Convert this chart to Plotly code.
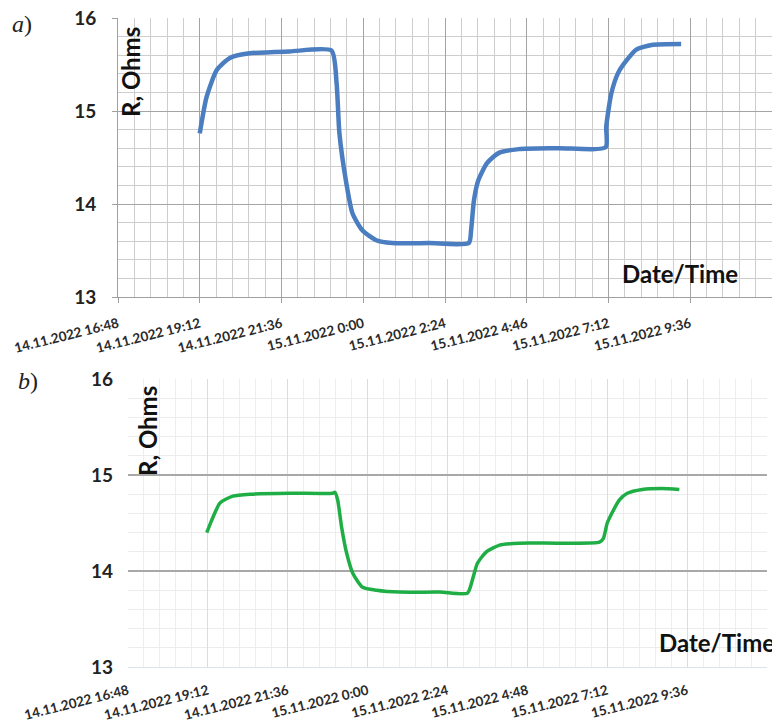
import plotly.graph_objects as go
import pandas as pd
import numpy as np

# ---- data ----
tick_vals = ["2022-11-14 16:48", "2022-11-14 19:12", "2022-11-14 21:36", "2022-11-15 00:00",
             "2022-11-15 02:24", "2022-11-15 04:48", "2022-11-15 07:12", "2022-11-15 09:36"]
tick_text_a = ["14.11.2022 16:48", "14.11.2022 19:12", "14.11.2022 21:36", "15.11.2022 0:00",
               "15.11.2022 2:24", "15.11.2022 4:46", "15.11.2022 7:12", "15.11.2022 9:36"]
tick_text_b = ["14.11.2022 16:48", "14.11.2022 19:12", "14.11.2022 21:36", "15.11.2022 0:00",
               "15.11.2022 2:24", "15.11.2022 4:48", "15.11.2022 7:12", "15.11.2022 9:36"]

time_a = ["2022-11-14 19:12", "2022-11-14 19:24", "2022-11-14 19:42", "2022-11-14 20:05",
          "2022-11-14 20:40", "2022-11-14 21:50", "2022-11-14 23:04", "2022-11-14 23:13",
          "2022-11-14 23:18", "2022-11-14 23:30", "2022-11-14 23:41", "2022-11-14 23:58",
          "2022-11-15 00:23", "2022-11-15 00:51", "2022-11-15 01:56", "2022-11-15 03:06",
          "2022-11-15 03:10", "2022-11-15 03:15", "2022-11-15 03:23", "2022-11-15 03:38",
          "2022-11-15 03:59", "2022-11-15 04:34", "2022-11-15 05:44", "2022-11-15 07:07",
          "2022-11-15 07:08", "2022-11-15 07:17", "2022-11-15 07:29", "2022-11-15 07:42",
          "2022-11-15 08:01", "2022-11-15 08:28", "2022-11-15 09:20"]
r_a = [14.76, 15.15, 15.44, 15.57, 15.62, 15.64, 15.65, 15.30,
       14.76, 14.23, 13.90, 13.72, 13.61, 13.58, 13.58, 13.58,
       13.72, 14.04, 14.26, 14.44, 14.55, 14.59, 14.60, 14.61,
       14.83, 15.19, 15.41, 15.53, 15.66, 15.71, 15.72]

time_b = ["2022-11-14 19:10", "2022-11-14 19:19", "2022-11-14 19:34", "2022-11-14 19:57",
          "2022-11-14 20:28", "2022-11-14 21:40", "2022-11-14 22:57", "2022-11-14 23:01",
          "2022-11-14 23:06", "2022-11-14 23:13", "2022-11-14 23:22", "2022-11-14 23:33",
          "2022-11-14 23:51", "2022-11-15 00:16", "2022-11-15 00:58", "2022-11-15 02:10",
          "2022-11-15 03:00", "2022-11-15 03:09", "2022-11-15 03:18", "2022-11-15 03:34",
          "2022-11-15 03:58", "2022-11-15 04:34", "2022-11-15 05:46", "2022-11-15 06:58",
          "2022-11-15 07:05", "2022-11-15 07:12", "2022-11-15 07:21", "2022-11-15 07:34",
          "2022-11-15 07:48", "2022-11-15 08:15", "2022-11-15 08:51", "2022-11-15 09:22"]
r_b = [14.40, 14.53, 14.71, 14.78, 14.80, 14.81, 14.81, 14.82,
       14.74, 14.46, 14.19, 13.98, 13.83, 13.80, 13.78, 13.78,
       13.77, 13.91, 14.08, 14.20, 14.27, 14.29, 14.29, 14.30,
       14.34, 14.50, 14.61, 14.74, 14.81, 14.85, 14.86, 14.85]

x_range = ["2022-11-14 16:48", "2022-11-15 12:00"]
y_range = [13, 16]

# minor grid positions (every 28.8 min / every 0.2 Ohm)
minor_x = [t.strftime("%Y-%m-%d %H:%M:%S") for t in
           pd.date_range(x_range[0], x_range[1], freq="1728s")]
minor_y = [round(v, 1) for v in np.arange(13.0, 16.01, 0.2)]

# page body has an 8px margin; the figure fills the rest of the 780x727 window
OFF = 8
W, H = 780 - OFF, 727 - OFF
def px(x): return (x - OFF) / W
def py(y): return 1 - (y - OFF) / H

fig = go.Figure()
fig.add_trace(go.Scatter(x=time_a, y=r_a, mode="lines",
                         line=dict(color="#4a7ec0", width=4.5, shape="spline", smoothing=0.6),
                         xaxis="x", yaxis="y", showlegend=False))
fig.add_trace(go.Scatter(x=time_b, y=r_b, mode="lines",
                         line=dict(color="#1fae45", width=3.5, shape="spline", smoothing=0.6),
                         xaxis="x2", yaxis="y2", showlegend=False))

date_font = dict(family="Lato", size=13.5, color="#2a2a2a", weight="bold")
ytick_font = dict(family="Lato", size=19, color="#222222", weight="bold")

fig.update_layout(
    width=W, height=H, autosize=False,
    margin=dict(l=0, r=0, t=0, b=0, autoexpand=False),
    paper_bgcolor="white", plot_bgcolor="white",
    xaxis=dict(domain=[px(118), px(772)], anchor="y", type="date", range=x_range, automargin=False,
               tickmode="array", tickvals=tick_vals, ticktext=tick_text_a, tickangle=-14,
               tickfont=date_font, showgrid=True, gridcolor="#a4a4a4", gridwidth=1,
               ticks="outside", ticklen=5, tickcolor="#a0a0a0", ticklabeloverflow="allow",
               showline=True, linecolor="#a0a0a0", linewidth=1, ticklabelstandoff=8,
               minor=dict(tickmode="array", tickvals=minor_x, ticks="",
                          showgrid=True, gridcolor="#cdcdcd", gridwidth=1)),
    yaxis=dict(domain=[py(297), py(18)], anchor="x", range=y_range, dtick=1, automargin=False,
               tickfont=ytick_font, showgrid=True, gridcolor="#a4a4a4", gridwidth=1,
               ticks="outside", ticklen=5, tickcolor="#a0a0a0", ticklabeloverflow="allow",
               showline=True, linecolor="#a0a0a0", linewidth=1, ticklabelstandoff=12,
               zeroline=False,
               minor=dict(tickmode="array", tickvals=minor_y, ticks="",
                          showgrid=True, gridcolor="#cdcdcd", gridwidth=1)),
    xaxis2=dict(domain=[px(128), px(767)], anchor="y2", type="date", range=x_range, automargin=False,
                tickmode="array", tickvals=tick_vals, ticktext=tick_text_b, tickangle=-14,
                tickfont=date_font, showgrid=True, gridcolor="#dcdcdc", gridwidth=1,
                ticks="", showline=True, linecolor="#dbe3ee", linewidth=1, ticklabelstandoff=10,
                ticklabeloverflow="allow",
                minor=dict(tickmode="array", tickvals=minor_x, ticks="",
                           showgrid=True, gridcolor="#eeeeee", gridwidth=1)),
    yaxis2=dict(domain=[py(667), py(379)], anchor="x2", range=y_range, dtick=1, automargin=False,
                tickfont=ytick_font, showgrid=True, gridcolor="#a8a8a8", gridwidth=1.5,
                ticks="", showline=False, ticklabelstandoff=14, zeroline=False,
                ticklabeloverflow="allow",
                minor=dict(tickmode="array", tickvals=minor_y, ticks="",
                           showgrid=True, gridcolor="#ececec", gridwidth=1)),
)

ann_font = dict(family="Lato", size=24, color="#111111", weight="bold")
serif = dict(family="Liberation Serif", size=24, color="#222222")
annotations = [
    dict(x=px(131), y=py(72), text="R, Ohms", textangle=-90, font=ann_font),
    dict(x=px(680), y=py(273), text="Date/Time", font=ann_font),
    dict(x=px(147), y=py(431), text="R, Ohms", textangle=-90, font=ann_font),
    dict(x=px(717), y=py(642), text="Date/Time", font=ann_font),
    dict(x=px(22), y=py(24), text="<i>a</i>)", font=serif),
    dict(x=px(28), y=py(381), text="<i>b</i>)", font=serif),
]
for a in annotations:
    a.update(xref="paper", yref="paper", showarrow=False, xanchor="center", yanchor="middle")
fig.update_layout(annotations=annotations)

fig.write_html("out.html")
